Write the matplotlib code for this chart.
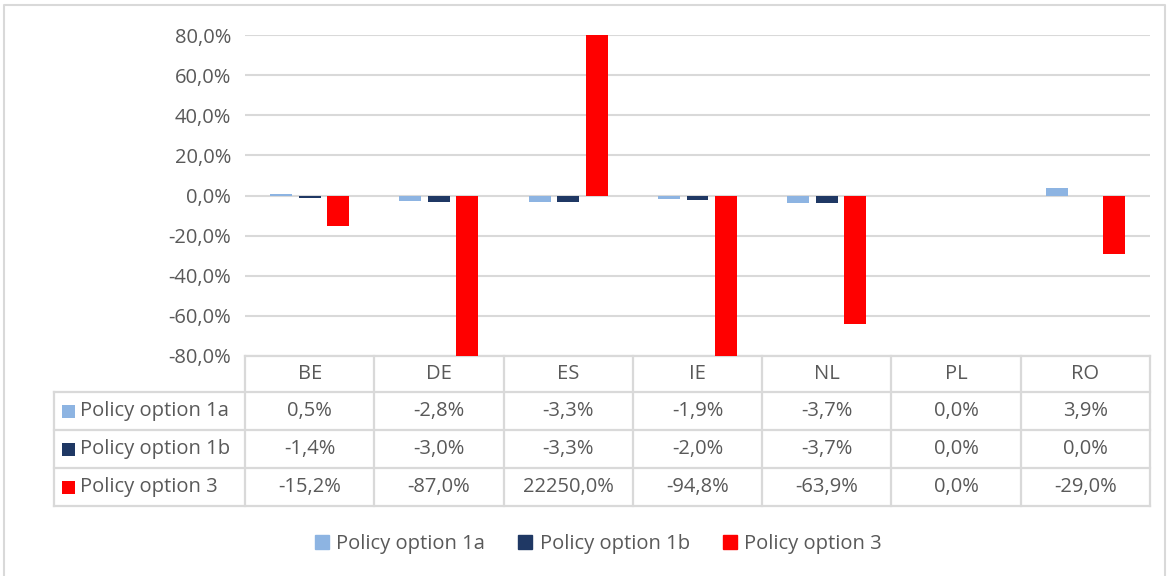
import matplotlib
matplotlib.use("Agg")
import matplotlib.pyplot as plt
from matplotlib.patches import Rectangle
from matplotlib.lines import Line2D

countries = ["BE", "DE", "ES", "IE", "NL", "PL", "RO"]
series_names = ["Policy option 1a", "Policy option 1b", "Policy option 3"]
option_1a = [0.5, -2.8, -3.3, -1.9, -3.7, 0.0, 3.9]
option_1b = [-1.4, -3.0, -3.3, -2.0, -3.7, 0.0, 0.0]
option_3 = [-15.2, -87.0, 22250.0, -94.8, -63.9, 0.0, -29.0]
y_ticks = [-80, -60, -40, -20, 0, 20, 40, 60, 80]

colors = ["#8DB4E2", "#1F3864", "#FF0000"]
TEXT = "#595959"
GRID = "#D9D9D9"
FONT = "Open Sans"
FS = 14.5

W, H = 1170, 576
fig = plt.figure(figsize=(W / 100, H / 100), dpi=100)


def px(x0, y0, x1, y1):
    # pixel box (top-left origin) -> figure fraction rect
    return [x0 / W, 1 - y1 / H, (x1 - x0) / W, (y1 - y0) / H]


# overlay in pixel coords for frame, table and legend
ov = fig.add_axes([0, 0, 1, 1])
ov.set_xlim(0, W)
ov.set_ylim(H, 0)
ov.axis("off")

ax = fig.add_axes(px(245, 35, 1150, 356))
ax.set_zorder(2)
ax.patch.set_alpha(0)

values = [option_1a, option_1b, option_3]
x = list(range(len(countries)))
bw, step = 0.17, 0.22
for k, vals in enumerate(values):
    pos = [i + (k - 1) * step for i in x]
    ax.bar(pos, vals, width=bw, color=colors[k], zorder=3)

ax.set_xlim(-0.5, len(countries) - 0.5)
ax.set_ylim(-80, 80)
ax.set_yticks(y_ticks)
ax.set_yticklabels([f"{t:.1f}%".replace(".", ",") for t in y_ticks],
                   fontsize=FS, color=TEXT, family=FONT)
ax.tick_params(axis="y", length=0, pad=10)
ax.set_xticks([])
ax.grid(axis="y", color=GRID, linewidth=1.5, zorder=0)
for s in ax.spines.values():
    s.set_visible(False)

# outer frame
ov.plot([4, 4, 1165, 1165], [576, 5, 5, 576], color=GRID, linewidth=1.5)

# data table
left_lbl, tab_l, tab_r = 54, 245, 1150
cw = (tab_r - tab_l) / len(countries)
row_edges = [356, 392, 430, 468, 506]
lw = 1.6
# horizontal lines
ov.plot([tab_l, tab_r], [row_edges[0]] * 2, color=GRID, lw=lw)
for y in row_edges[1:]:
    ov.plot([left_lbl, tab_r], [y, y], color=GRID, lw=lw)
# vertical lines
for j in range(len(countries) + 1):
    xx = tab_l + j * cw
    ov.plot([xx, xx], [row_edges[0], row_edges[-1]], color=GRID, lw=lw)
ov.plot([left_lbl, left_lbl], [row_edges[1], row_edges[-1]], color=GRID, lw=lw)

for j, c in enumerate(countries):
    ov.text(tab_l + (j + 0.5) * cw, (row_edges[0] + row_edges[1]) / 2, c,
            ha="center", va="center", fontsize=FS, color=TEXT, family=FONT)

for r, (name, vals) in enumerate(zip(series_names, values)):
    yc = (row_edges[r + 1] + row_edges[r + 2]) / 2
    ov.add_patch(Rectangle((62, yc - 6), 13, 13, color=colors[r], lw=0))
    ov.text(80, yc, name, ha="left", va="center", fontsize=FS,
            color=TEXT, family=FONT)
    for j, v in enumerate(vals):
        ov.text(tab_l + (j + 0.5) * cw, yc, f"{v:.1f}%".replace(".", ","),
                ha="center", va="center", fontsize=FS, color=TEXT, family=FONT)

# legend
handles = [Line2D([], [], marker="s", linestyle="none", markersize=10,
                  markerfacecolor=c, markeredgecolor=c) for c in colors]
fig.legend(handles, series_names, loc="center", bbox_to_anchor=(598 / W, 1 - 544 / H),
           ncol=3, frameon=False, handlelength=0.8, handletextpad=0.3,
           columnspacing=1.6, prop={"family": FONT, "size": FS}, labelcolor=TEXT)

fig.savefig("out.png", dpi=100)
